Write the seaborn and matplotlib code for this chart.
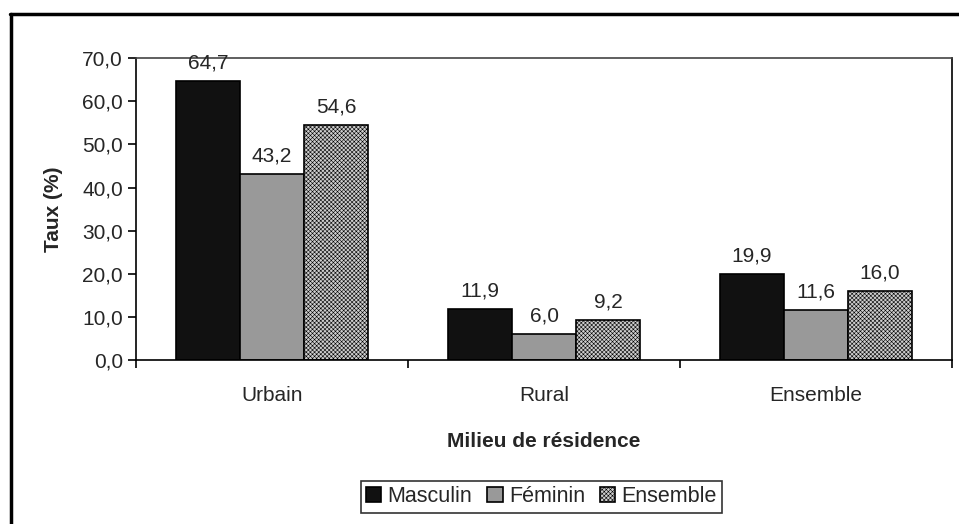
import pandas as pd
import matplotlib.pyplot as plt
import seaborn as sns
from matplotlib.lines import Line2D

milieux = ['Urbain', 'Rural', 'Ensemble']
sexes = ['Masculin', 'Féminin', 'Ensemble']
masculin = [64.7, 11.9, 19.9]
feminin = [43.2, 6.0, 11.6]
ensemble = [54.6, 9.2, 16.0]
yticks = [0, 10, 20, 30, 40, 50, 60, 70]

df = pd.DataFrame({
    'milieu': milieux * 3,
    'sexe': [s for s in sexes for _ in milieux],
    'taux': masculin + feminin + ensemble,
})

sns.set_style('white')
plt.rcParams['font.family'] = ['Liberation Sans', 'DejaVu Sans']
plt.rcParams['hatch.linewidth'] = 0.4
plt.rcParams['hatch.color'] = '#6a6a6a'

FS = 15

fig = plt.figure(figsize=(9.59, 5.24), dpi=100)
ax = fig.add_axes([0.1418, 0.313, 0.851, 0.576])

palette = {'Masculin': '#111111', 'Féminin': '#999999', 'Ensemble': '#cdcdcd'}
sns.barplot(data=df, x='milieu', y='taux', hue='sexe', hue_order=sexes,
            order=milieux, palette=palette, width=0.706, saturation=1,
            edgecolor='black', linewidth=1.2, ax=ax)

for cont, name in zip(ax.containers, sexes):
    if name == 'Ensemble':
        for p in cont:
            p.set_hatch('xxxxxxxx')
    ax.bar_label(cont, labels=[f'{v:.1f}'.replace('.', ',') for v in cont.datavalues],
                 padding=6, fontsize=FS)

ax.set_ylim(0, 70)
ax.set_xlim(-0.5, 2.5)
ax.set_yticks(yticks)
ax.set_yticklabels([f'{v:.1f}'.replace('.', ',') for v in yticks], fontsize=FS)
ax.tick_params(axis='y', left=True, length=6, width=1.2, color='black')
ax.tick_params(axis='x', bottom=False, labelsize=FS, pad=15)
ax.set_xticks([-0.5, 0.5, 1.5, 2.5], minor=True)
ax.tick_params(axis='x', which='minor', bottom=True, length=6, width=1.2, color='black')

for s in ax.spines.values():
    s.set_color('black')
    s.set_linewidth(1.2)
ax.spines['top'].set_color('#444444')

ax.set_ylabel('Taux (%)', fontsize=FS, fontweight='bold', labelpad=14)
ax.set_xlabel('Milieu de résidence', fontsize=FS, fontweight='bold', labelpad=20)

leg = ax.legend(loc='center', bbox_to_anchor=(0.497, -0.4536),
                ncol=3, fontsize=15.5, frameon=True, fancybox=False,
                handlelength=0.7, handleheight=0.7, handletextpad=0.3,
                columnspacing=0.7, borderpad=0.25, borderaxespad=0)
leg.get_frame().set_edgecolor('black')
leg.get_frame().set_linewidth(1.2)
leg.legend_handles[2].set_hatch('xxxxxxxx')

# cadre extérieur
fig.add_artist(Line2D([0.0104, 1.0], [0.973, 0.973], color='black', lw=2.5, transform=fig.transFigure))
fig.add_artist(Line2D([0.0115, 0.0115], [0.0, 0.973], color='black', lw=2.5, transform=fig.transFigure))

plt.savefig('out.png', dpi=100)
plt.close()
